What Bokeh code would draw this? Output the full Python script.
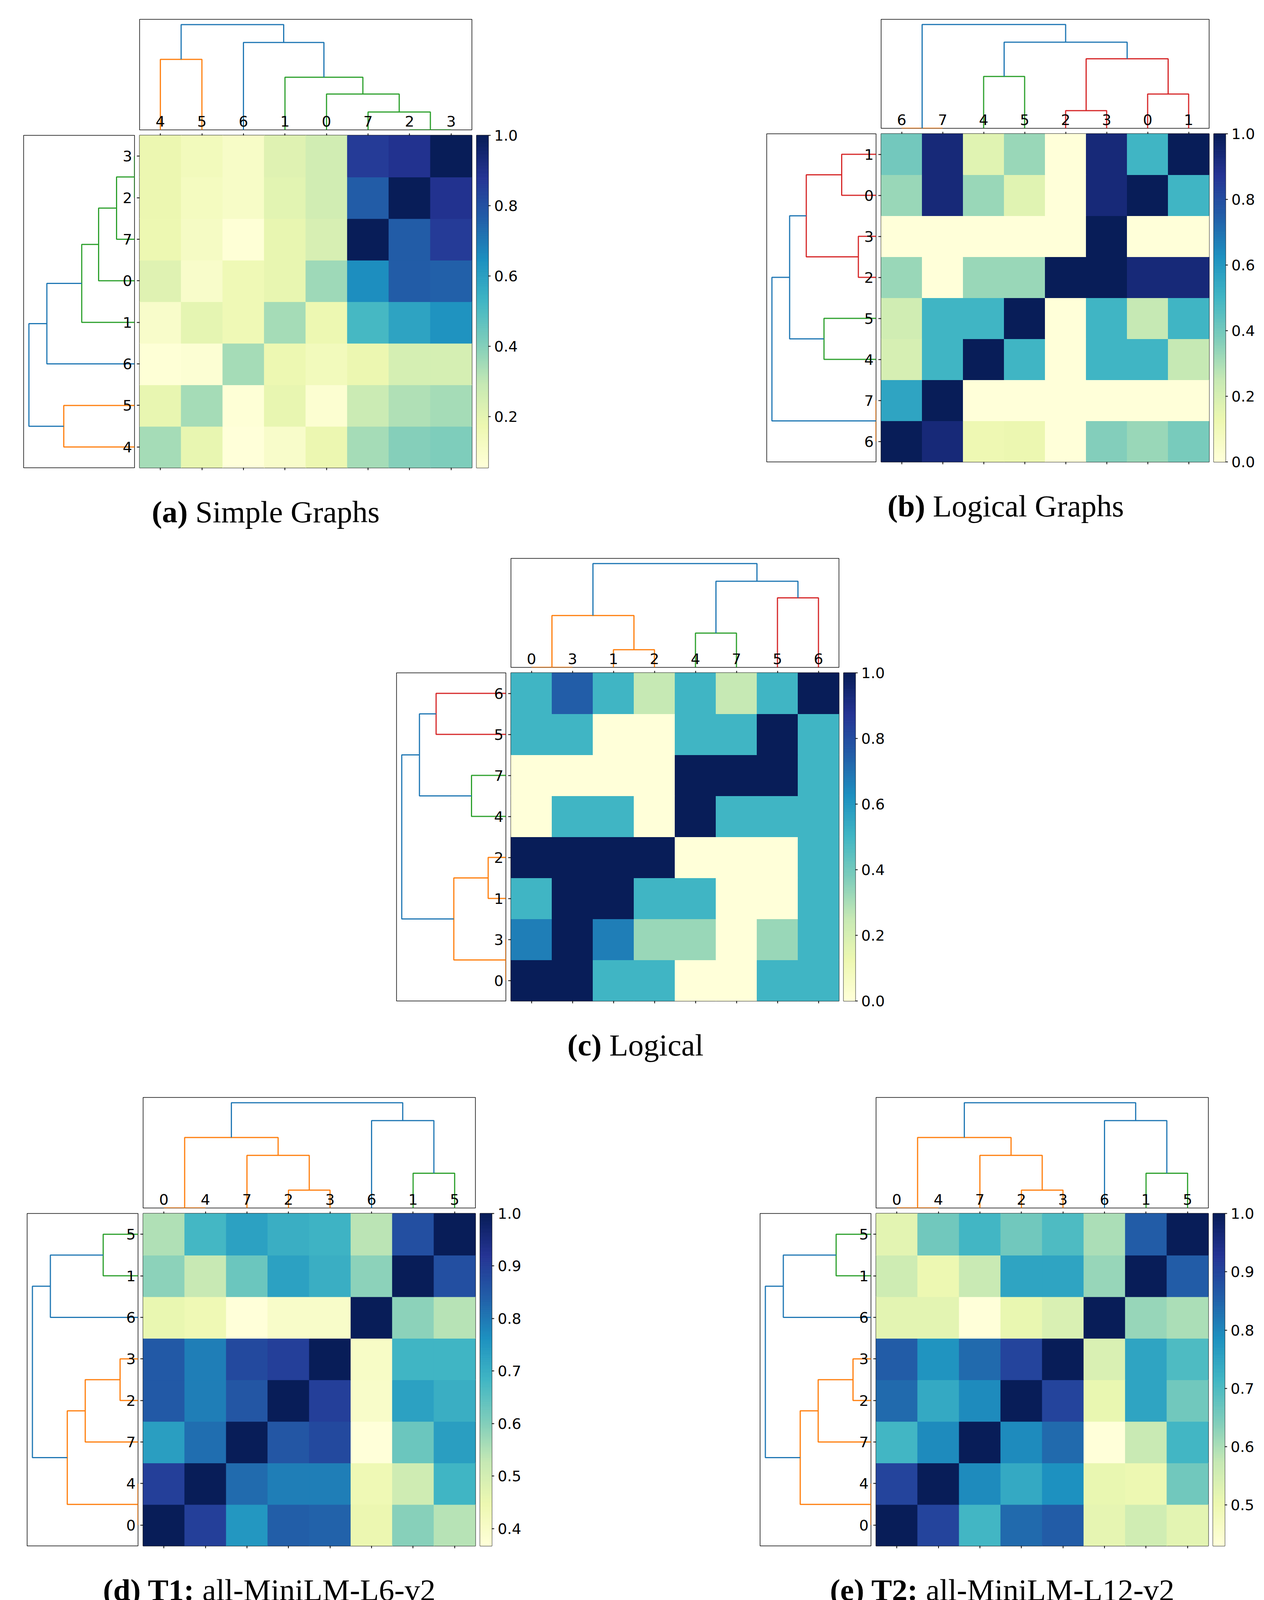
import numpy as np
from bokeh.plotting import figure
from bokeh.models import (Range1d, FactorRange, ColumnDataSource, LinearColorMapper,
                          CategoricalAxis, FixedTicker, PrintfTickFormatter, Spacer)
from bokeh.layouts import row, column
from bokeh.core.properties import value
from bokeh.embed import file_html
from bokeh.resources import INLINE

# ---------------- data ----------------
# leaf order (tick labels), linkage (child, child, height, colour), matrix rows in leaf order (bottom->top)
a_order = [4, 5, 6, 1, 0, 7, 2, 3]
a_links = [(2, 3, 0.00, "C2"), (7, 8, 0.17, "C2"), (0, 9, 0.34, "C2"), (1, 10, 0.50, "C2"),
           (4, 5, 0.67, "C1"), (6, 11, 0.83, "C0"), (12, 13, 1.00, "C0")]
a_values = [
    [0.35, 0.19, 0.055, 0.10, 0.18, 0.35, 0.40, 0.41],
    [0.19, 0.35, 0.065, 0.19, 0.08, 0.28, 0.33, 0.35],
    [0.065, 0.075, 0.35, 0.17, 0.14, 0.18, 0.25, 0.25],
    [0.10, 0.20, 0.16, 0.35, 0.17, 0.52, 0.59, 0.64],
    [0.22, 0.10, 0.16, 0.19, 0.36, 0.65, 0.77, 0.76],
    [0.17, 0.12, 0.065, 0.19, 0.24, 1.00, 0.77, 0.86],
    [0.18, 0.13, 0.11, 0.21, 0.26, 0.77, 1.00, 0.89],
    [0.18, 0.14, 0.11, 0.22, 0.26, 0.86, 0.89, 1.00],
]
a_ticks = [0.2, 0.4, 0.6, 0.8, 1.0]
a_caption = ("(a)", "Simple Graphs")

b_order = [6, 7, 4, 5, 2, 3, 0, 1]
b_links = [(6, 7, 0.00, "C1"), (2, 3, 0.17, "C3"), (0, 1, 0.33, "C3"), (4, 5, 0.50, "C2"),
           (9, 10, 0.67, "C3"), (11, 12, 0.83, "C0"), (8, 13, 1.00, "C0")]
b_values = [
    [1.00, 0.93, 0.12, 0.13, 0.00, 0.37, 0.33, 0.39],
    [0.56, 1.00, 0.00, 0.00, 0.00, 0.00, 0.00, 0.00],
    [0.20, 0.50, 1.00, 0.50, 0.00, 0.50, 0.50, 0.25],
    [0.22, 0.50, 0.50, 1.00, 0.00, 0.50, 0.25, 0.50],
    [0.33, 0.00, 0.33, 0.33, 1.00, 1.00, 0.93, 0.93],
    [0.00, 0.00, 0.00, 0.00, 0.00, 1.00, 0.00, 0.00],
    [0.33, 0.93, 0.33, 0.17, 0.00, 0.93, 1.00, 0.50],
    [0.40, 0.93, 0.17, 0.33, 0.00, 0.93, 0.50, 1.00],
]
b_ticks = [0.0, 0.2, 0.4, 0.6, 0.8, 1.0]
b_caption = ("(b)", "Logical Graphs")

c_order = [0, 3, 1, 2, 4, 7, 5, 6]
c_links = [(0, 3, 0.00, "C1"), (1, 2, 0.17, "C1"), (8, 9, 0.50, "C1"), (4, 7, 0.33, "C2"),
           (5, 6, 0.67, "C3"), (11, 12, 0.83, "C0"), (10, 13, 1.00, "C0")]
c_values = [
    [1.00, 1.00, 0.50, 0.50, 0.00, 0.00, 0.50, 0.50],
    [0.67, 1.00, 0.67, 0.33, 0.33, 0.00, 0.33, 0.50],
    [0.50, 1.00, 1.00, 0.50, 0.50, 0.00, 0.00, 0.50],
    [1.00, 1.00, 1.00, 1.00, 0.00, 0.00, 0.00, 0.50],
    [0.00, 0.50, 0.50, 0.00, 1.00, 0.50, 0.50, 0.50],
    [0.00, 0.00, 0.00, 0.00, 1.00, 1.00, 1.00, 0.50],
    [0.50, 0.50, 0.00, 0.00, 0.50, 0.50, 1.00, 0.50],
    [0.50, 0.75, 0.50, 0.25, 0.50, 0.25, 0.50, 1.00],
]
c_ticks = [0.0, 0.2, 0.4, 0.6, 0.8, 1.0]
c_caption = ("(c)", "Logical")

d_order = [0, 4, 7, 2, 3, 6, 1, 5]
d_links = [(0, 4, 0.00, "C1"), (2, 3, 0.17, "C1"), (7, 9, 0.50, "C1"), (8, 10, 0.67, "C1"),
           (1, 5, 0.33, "C2"), (6, 12, 0.83, "C0"), (11, 13, 1.00, "C0")]
d_values = [
    [1.00, 0.90, 0.75, 0.84, 0.835, 0.45, 0.595, 0.545],
    [0.90, 1.00, 0.82, 0.79, 0.79, 0.44, 0.51, 0.685],
    [0.735, 0.815, 1.00, 0.855, 0.88, 0.367, 0.63, 0.735],
    [0.85, 0.79, 0.855, 1.00, 0.90, 0.40, 0.73, 0.70],
    [0.85, 0.79, 0.88, 0.90, 1.00, 0.405, 0.685, 0.685],
    [0.455, 0.44, 0.367, 0.40, 0.40, 1.00, 0.59, 0.545],
    [0.59, 0.525, 0.63, 0.73, 0.70, 0.59, 1.00, 0.87],
    [0.55, 0.68, 0.73, 0.70, 0.69, 0.54, 0.87, 1.00],
]
d_ticks = [0.4, 0.5, 0.6, 0.7, 0.8, 0.9, 1.0]
d_caption = ("(d) T1:", "all-MiniLM-L6-v2")

e_order = [0, 4, 7, 2, 3, 6, 1, 5]
e_links = [(0, 4, 0.00, "C1"), (2, 3, 0.17, "C1"), (7, 9, 0.50, "C1"), (8, 10, 0.67, "C1"),
           (1, 5, 0.33, "C2"), (6, 12, 0.83, "C0"), (11, 13, 1.00, "C0")]
e_values = [
    [1.00, 0.90, 0.715, 0.84, 0.86, 0.515, 0.555, 0.52],
    [0.90, 1.00, 0.795, 0.74, 0.785, 0.51, 0.50, 0.66],
    [0.715, 0.795, 1.00, 0.795, 0.84, 0.43, 0.57, 0.715],
    [0.84, 0.74, 0.795, 1.00, 0.90, 0.51, 0.75, 0.66],
    [0.86, 0.78, 0.84, 0.90, 1.00, 0.54, 0.75, 0.70],
    [0.52, 0.52, 0.43, 0.51, 0.54, 1.00, 0.62, 0.60],
    [0.56, 0.50, 0.57, 0.75, 0.75, 0.62, 1.00, 0.86],
    [0.52, 0.66, 0.715, 0.66, 0.70, 0.60, 0.86, 1.00],
]
e_ticks = [0.5, 0.6, 0.7, 0.8, 0.9, 1.0]
e_caption = ("(e) T2:", "all-MiniLM-L12-v2")

f_order = [0, 4, 7, 2, 3, 6, 1, 5]
f_links = [(0, 4, 0.17, "C1"), (2, 3, 0.00, "C1"), (7, 9, 0.50, "C1"), (8, 10, 0.67, "C1"),
           (1, 5, 0.33, "C2"), (6, 12, 0.83, "C0"), (11, 13, 1.00, "C0")]
f_values = [
    [1.00, 0.88, 0.71, 0.82, 0.785, 0.514, 0.585, 0.54],
    [0.88, 1.00, 0.843, 0.71, 0.71, 0.50, 0.524, 0.675],
    [0.71, 0.843, 1.00, 0.807, 0.84, 0.477, 0.665, 0.79],
    [0.82, 0.71, 0.807, 1.00, 0.885, 0.514, 0.775, 0.70],
    [0.79, 0.71, 0.84, 0.885, 1.00, 0.50, 0.735, 0.675],
    [0.53, 0.515, 0.477, 0.525, 0.50, 1.00, 0.59, 0.575],
    [0.59, 0.535, 0.665, 0.775, 0.735, 0.59, 1.00, 0.875],
    [0.545, 0.675, 0.79, 0.70, 0.675, 0.575, 0.875, 1.00],
]
f_ticks = [0.5, 0.6, 0.7, 0.8, 0.9, 1.0]
f_caption = ("(f) T3:", "all-mpnet-base-v2")

g_order = [0, 4, 7, 2, 3, 6, 1, 5]
g_links = [(0, 4, 0.17, "C1"), (2, 3, 0.00, "C1"), (7, 9, 0.50, "C1"), (8, 10, 0.67, "C1"),
           (1, 5, 0.33, "C2"), (6, 12, 0.83, "C0"), (11, 13, 1.00, "C0")]
g_values = [
    [1.00, 0.87, 0.72, 0.795, 0.855, 0.57, 0.72, 0.595],
    [0.87, 1.00, 0.77, 0.645, 0.735, 0.466, 0.55, 0.665],
    [0.715, 0.77, 1.00, 0.84, 0.83, 0.477, 0.665, 0.757],
    [0.80, 0.645, 0.838, 1.00, 0.90, 0.52, 0.79, 0.645],
    [0.855, 0.73, 0.82, 0.90, 1.00, 0.575, 0.795, 0.71],
    [0.57, 0.461, 0.48, 0.52, 0.57, 1.00, 0.70, 0.644],
    [0.72, 0.56, 0.665, 0.79, 0.79, 0.70, 1.00, 0.855],
    [0.595, 0.67, 0.757, 0.645, 0.715, 0.64, 0.855, 1.00],
]
g_ticks = [0.5, 0.6, 0.7, 0.8, 0.9, 1.0]
g_caption = ("(g) T4:", "all-roberta-large-v1")

PANELS = {
    "a": (a_order, a_links, a_values, a_ticks, a_caption),
    "b": (b_order, b_links, b_values, b_ticks, b_caption),
    "c": (c_order, c_links, c_values, c_ticks, c_caption),
    "d": (d_order, d_links, d_values, d_ticks, d_caption),
    "e": (e_order, e_links, e_values, e_ticks, e_caption),
    "f": (f_order, f_links, f_values, f_ticks, f_caption),
    "g": (g_order, g_links, g_values, g_ticks, g_caption),
}

# ---------------- layout / style ----------------
POS = {"a": (68, 57, 851), "b": (1971, 57, 840), "c": (1023, 1437, 840),
       "d": (77, 2817, 851), "e": (1954, 2817, 851),
       "f": (77, 4196, 851), "g": (1954, 4196, 851)}
ROWS = [["a", "b"], ["c"], ["d", "e"], ["f", "g"]]

TAB = {"C0": "#1f77b4", "C1": "#ff7f0e", "C2": "#2ca02c", "C3": "#d62728"}
YLGNBU = ["#ffffd9", "#edf8b1", "#c7e9b4", "#7fcdbb", "#41b6c4",
          "#1d91c0", "#225ea8", "#253494", "#081d58"]


def make_palette(anchors, n=256):
    rgb = np.array([[int(h[i:i + 2], 16) for i in (1, 3, 5)] for h in anchors], float)
    t = np.linspace(0, 1, len(anchors))
    tt = np.linspace(0, 1, n)
    cols = np.stack([np.interp(tt, t, rgb[:, k]) for k in range(3)], axis=1)
    return ["#%02x%02x%02x" % tuple(int(round(v)) for v in c) for c in cols]


PAL = make_palette(YLGNBU)

B = 2
TD_BOT = 8           # border under the column dendrogram frame
GAPX = 13
GAPY = 14
HM_TOP = GAPY - TD_BOT
BOT = 10
CB_W = 30
CB_TOP = 30
CB_BOT = 28
CB_RIGHT = 86
HC = 144
CAP_BASE = 112        # caption baseline, px from top of caption strip
TICK_FONT = "DejaVu Sans"
TICK_PX = 38
TICK_SIZE = "%dpx" % TICK_PX
CAP_FONT = "Liberation Serif"
CAP_PX = 79

TW_REG = {' ': 250, '(': 333, ')': 333, '-': 333, ':': 278,
          'a': 444, 'b': 500, 'c': 444, 'd': 500, 'e': 444, 'f': 333, 'g': 500, 'h': 500,
          'i': 278, 'j': 278, 'k': 500, 'l': 278, 'm': 778, 'n': 500, 'o': 500, 'p': 500,
          'q': 500, 'r': 333, 's': 389, 't': 278, 'u': 500, 'v': 500, 'w': 722, 'x': 500,
          'y': 500, 'z': 444, 'G': 722, 'L': 611, 'M': 889, 'S': 556, 'T': 611}
TW_BOLD = {' ': 250, '(': 333, ')': 333, ':': 333, 'T': 667, 'a': 500, 'b': 556, 'c': 444,
           'd': 556, 'e': 444, 'f': 333, 'g': 500}


def text_w(s, table):
    return sum(table.get(ch, 500) for ch in s) / 1000.0 * CAP_PX


def dendro_lines(order, links):
    n = len(order)
    pos = {leaf: 5 + 10 * i for i, leaf in enumerate(order)}
    hgt = {leaf: 0.0 for leaf in order}
    P, H, cols = [], [], []
    for k, (l, r, h, c) in enumerate(links):
        P.append([pos[l], pos[l], pos[r], pos[r]])
        H.append([hgt[l], h, h, hgt[r]])
        cols.append(TAB[c])
        pos[n + k] = (pos[l] + pos[r]) / 2.0
        hgt[n + k] = h
    return P, H, cols


def base_fig(w, h, xr, yr, ml, mr, mt, mb, **kw):
    p = figure(width=int(w), height=int(h), x_range=xr, y_range=yr,
               toolbar_location=None, output_backend="svg",
               min_border_left=int(ml), min_border_right=int(mr),
               min_border_top=int(mt), min_border_bottom=int(mb), **kw)
    p.grid.visible = False
    p.background_fill_color = "white"
    p.border_fill_color = "white"
    return p


def build_panel(key):
    order, links, values, ticks, caption = PANELS[key]
    _, _, Hs = POS[key]
    n = len(order)
    ldw = int(round(Hs * 284 / 851))
    tdh = int(round(Hs * 283 / 851))
    root = max(l[2] for l in links)
    P, H, cols = dendro_lines(order, links)
    labels = [str(v) for v in order]
    leafpos = [5 + 10 * i for i in range(n)]

    # column dendrogram (top) with the heatmap's column labels along its floor
    td = base_fig(Hs + 2 * B, tdh + B + TD_BOT, Range1d(0, 10 * n), Range1d(0, 1.05 * root),
                  B, B, B, TD_BOT, x_axis_location=None, y_axis_location=None)
    td.outline_line_color = "black"
    td.outline_line_width = 1.5
    td.multi_line(xs="xs", ys="ys", line_color="c", line_width=3,
                  source=ColumnDataSource(dict(xs=P, ys=H, c=cols)))
    td.text(x=leafpos, y=[0] * n, text=labels, text_align="center",
            text_baseline="middle", y_offset=-(9 + int(round(0.35 * TICK_PX))),
            text_color="black", text_font=value(TICK_FONT), text_font_size=TICK_SIZE)

    # row dendrogram (left) with row labels along its right side
    ld = base_fig(ldw + 2 * B, Hs + HM_TOP + BOT, Range1d(1.05 * root, 0), Range1d(0, 10 * n),
                  B, B, HM_TOP, BOT, x_axis_location=None, y_axis_location=None)
    ld.outline_line_color = "black"
    ld.outline_line_width = 1.5
    ld.multi_line(xs="xs", ys="ys", line_color="c", line_width=3,
                  source=ColumnDataSource(dict(xs=H, ys=P, c=cols)))
    ld.text(x=[0] * n, y=leafpos, text=labels, text_align="right",
            text_baseline="middle", x_offset=-6, text_color="black",
            text_font=value(TICK_FONT), text_font_size=TICK_SIZE)

    # heatmap
    xs_, ys_, vs_ = [], [], []
    for i, r in enumerate(order):
        for j, c in enumerate(order):
            xs_.append(str(c))
            ys_.append(str(r))
            vs_.append(values[i][j])
    vmin, vmax = min(vs_), max(vs_)
    mapper = LinearColorMapper(palette=PAL, low=vmin, high=vmax)
    hm = base_fig(GAPX - B + Hs + 6, Hs + HM_TOP + BOT,
                  FactorRange(factors=labels), FactorRange(factors=labels),
                  GAPX - B, 6, HM_TOP, BOT)
    hm.rect(x="x", y="y", width=1, height=1, dilate=True,
            source=ColumnDataSource(dict(x=xs_, y=ys_, v=vs_)),
            fill_color={"field": "v", "transform": mapper},
            line_color={"field": "v", "transform": mapper}, line_width=1)
    hm.outline_line_color = "black"
    hm.outline_line_width = 2
    top_ax = CategoricalAxis()
    hm.add_layout(top_ax, "above")
    for ax, out in ((hm.below[0], 6), (hm.left[0], 7), (top_ax, 5)):
        ax.major_tick_out = out
        ax.major_tick_in = 0
        ax.major_tick_line_width = 2
        ax.major_tick_line_color = "black"
        ax.axis_line_color = None
        ax.major_label_text_font_size = "0px"
        ax.major_label_text_color = None
        ax.major_label_standoff = 0

    # colour bar
    edges = np.linspace(vmin, vmax, 257)
    cb = base_fig(6 + CB_W + CB_RIGHT, Hs + CB_TOP + CB_BOT, Range1d(0, 1), Range1d(vmin, vmax),
                  6, CB_RIGHT, CB_TOP, CB_BOT, x_axis_location=None, y_axis_location="right")
    cb.quad(left=0, right=1, bottom="b", top="t",
            source=ColumnDataSource(dict(b=edges[:-1], t=edges[1:], m=(edges[:-1] + edges[1:]) / 2)),
            fill_color={"field": "m", "transform": mapper},
            line_color={"field": "m", "transform": mapper}, line_width=1)
    cb.outline_line_color = "black"
    cb.outline_line_width = 2
    ya = cb.yaxis[0]
    ya.ticker = FixedTicker(ticks=ticks)
    ya.formatter = PrintfTickFormatter(format="%.1f")
    ya.major_tick_out = 6
    ya.major_tick_in = 0
    ya.minor_tick_out = 0
    ya.minor_tick_in = 0
    ya.major_tick_line_width = 2
    ya.axis_line_color = None
    ya.major_label_text_font = TICK_FONT
    ya.major_label_text_font_size = TICK_SIZE
    ya.major_label_text_color = "black"
    ya.major_label_standoff = 9

    W = ldw + GAPX + Hs + 6 + 6 + CB_W + CB_RIGHT + B

    # caption
    cap = base_fig(W, HC, Range1d(0, W), Range1d(0, HC), 0, 0, 0, 0,
                   x_axis_location=None, y_axis_location=None)
    cap.outline_line_color = None
    bold, reg = caption
    wb, ws, wr = text_w(bold, TW_BOLD), text_w(" ", TW_REG), text_w(reg, TW_REG)
    cx = 620.0 * Hs / 851 + B
    x0 = cx - (wb + ws + wr) / 2.0
    ymid = HC - (CAP_BASE - 0.34 * CAP_PX)
    cap.text(x=[x0], y=[ymid], text=[bold], text_align="left", text_baseline="middle",
             text_font=value(CAP_FONT), text_font_size="%dpx" % CAP_PX, text_font_style="bold",
             text_color="black")
    cap.text(x=[x0 + wb + ws], y=[ymid], text=[reg], text_align="left",
             text_baseline="middle", text_font=value(CAP_FONT),
             text_font_size="%dpx" % CAP_PX, text_color="black")

    left_col = column(row(Spacer(width=ldw + GAPX, height=tdh + B + TD_BOT), td), row(ld, hm))
    cb_col = column(Spacer(width=6 + CB_W + CB_RIGHT, height=tdh + GAPY - CB_TOP + B), cb)
    top_h = tdh + GAPY + B + Hs + CB_BOT
    panel = column(row(left_col, cb_col), cap)
    return panel, W, top_h + HC


items = []
cur_y = 8
for names in ROWS:
    y0 = POS[names[0]][1] - B
    items.append(Spacer(width=10, height=max(1, y0 - cur_y)))
    children = []
    cur_x = 8
    hmax = 0
    for nm in names:
        pnl, w, h = build_panel(nm)
        x0 = POS[nm][0] - B
        children.append(Spacer(width=max(1, x0 - cur_x), height=10))
        children.append(pnl)
        cur_x = x0 + w
        hmax = max(hmax, h)
    items.append(row(*children))
    cur_y = y0 + hmax

page = column(*items)
open("out.html", "w").write(file_html(page, INLINE, title="clustermaps"))
